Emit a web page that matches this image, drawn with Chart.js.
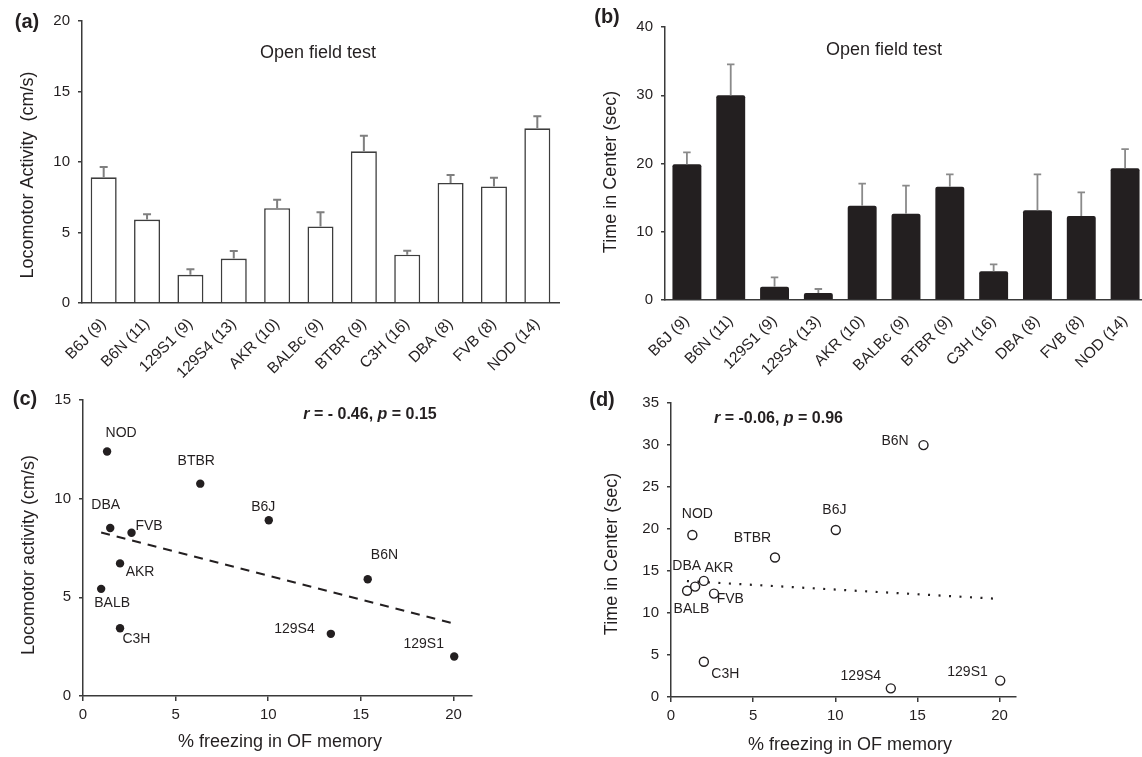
<!DOCTYPE html>
<html>
<head>
<meta charset="utf-8">
<script src="https://cdn.jsdelivr.net/npm/chart.js@4.4.1/dist/chart.umd.min.js"></script>
<style>
html,body{margin:0;padding:0;background:#ffffff;overflow:hidden;width:1142px;height:757px;}
canvas{position:absolute;}
</style>
</head>
<body>
<canvas id="chartA" width="570" height="380" style="left:0px;top:0px;"></canvas>
<canvas id="chartB" width="577" height="380" style="left:570px;top:0px;"></canvas>
<canvas id="chartC" width="570" height="377" style="left:0px;top:380px;"></canvas>
<canvas id="chartD" width="572" height="377" style="left:570px;top:380px;"></canvas>
<script>
// ---------------- DATA ----------------
const strains = ['B6J (9)','B6N (11)','129S1 (9)','129S4 (13)','AKR (10)','BALBc (9)','BTBR (9)','C3H (16)','DBA (8)','FVB (8)','NOD (14)'];
const strainNames = ['B6J','B6N','129S1','129S4','AKR','BALB','BTBR','C3H','DBA','FVB','NOD'];
const locomotorMean = [8.91, 5.92, 2.00, 3.15, 6.72, 5.43, 10.76, 3.43, 8.51, 8.27, 12.39];
const locomotorSem  = [0.73, 0.38, 0.40, 0.54, 0.61, 1.01, 1.11, 0.28, 0.56, 0.61, 0.86];
const centerTimeMean = [19.88, 29.99, 1.95, 1.03, 13.82, 12.65, 16.61, 4.20, 13.14, 12.31, 19.29];
const centerTimeSem  = [1.76, 4.54, 1.37, 0.58, 3.23, 4.10, 1.80, 1.03, 5.27, 3.47, 2.83];
const freezingOF = [10.03, 15.37, 20.04, 13.38, 2.00, 0.98, 6.33, 2.00, 1.47, 2.62, 1.30];
const trendLocoX = [0.98, 20.04];
const trendLocoY = [8.29, 3.67];
const trendCenterX = [0.97, 19.76];
const trendCenterY = [13.8, 11.7];
const locoBarTicks = [0, 5, 10, 15, 20];
const centerBarTicks = [0, 10, 20, 30, 40];
const locoScatterTicks = [0, 5, 10, 15];
const centerScatterTicks = [0, 5, 10, 15, 20, 25, 30, 35];
const freezingTicks = [0, 5, 10, 15, 20];

// ---------------- STYLE ----------------
const FONT = "'Liberation Sans', Arial, Helvetica, sans-serif";
const INK = '#231f20';
const AXIS = '#3a3a3a';

function fixedBox(size) {
  return function (scale) {
    if (scale.isHorizontal()) scale.height = size; else scale.width = size;
    scale.paddingLeft = 0; scale.paddingRight = 0; scale.paddingTop = 0; scale.paddingBottom = 0;
  };
}
function setTicks(values) {
  return function (scale) { scale.ticks = values.map(v => ({ value: v })); };
}

const annotPlugin = {
  id: 'annot',
  afterDraw(chart, args, opts) {
    const ctx = chart.ctx;
    (opts.items || []).forEach(it => {
      ctx.save();
      ctx.translate(it.x, it.y);
      if (it.rotate) ctx.rotate(it.rotate * Math.PI / 180);
      ctx.fillStyle = it.color || INK;
      ctx.textBaseline = 'middle';
      ctx.textAlign = 'left';
      const segs = it.segments || [{ text: it.text }];
      const fonts = segs.map(s => (s.italic ? 'italic ' : '') + (it.weight || 'normal') + ' ' + it.size + 'px ' + FONT);
      const widths = segs.map((s, i) => { ctx.font = fonts[i]; return ctx.measureText(s.text).width; });
      const total = widths.reduce((a, b) => a + b, 0);
      let x = -total / 2;
      segs.forEach((s, i) => { ctx.font = fonts[i]; ctx.fillText(s.text, x, 0); x += widths[i]; });
      ctx.restore();
    });
  }
};

const errorBarPlugin = {
  id: 'errorBars',
  afterDatasetsDraw(chart, args, opts) {
    if (!opts.errors) return;
    const meta = chart.getDatasetMeta(0);
    const ys = chart.scales.y;
    const vals = chart.data.datasets[0].data;
    const ctx = chart.ctx;
    ctx.save();
    ctx.strokeStyle = opts.color;
    ctx.lineWidth = opts.width;
    ctx.lineCap = 'butt';
    meta.data.forEach((bar, i) => {
      const yTop = ys.getPixelForValue(vals[i] + opts.errors[i]);
      const yBase = ys.getPixelForValue(vals[i]);
      ctx.beginPath();
      ctx.moveTo(bar.x, yBase);
      ctx.lineTo(bar.x, yTop);
      ctx.moveTo(bar.x - opts.cap / 2, yTop);
      ctx.lineTo(bar.x + opts.cap / 2, yTop);
      ctx.stroke();
    });
    ctx.restore();
  }
};

const pointLabelPlugin = {
  id: 'pointLabels',
  afterDatasetsDraw(chart, args, opts) {
    if (!opts.names) return;
    const meta = chart.getDatasetMeta(opts.datasetIndex);
    const ctx = chart.ctx;
    ctx.save();
    ctx.font = opts.size + 'px ' + FONT;
    ctx.fillStyle = INK;
    ctx.textAlign = 'center';
    ctx.textBaseline = 'middle';
    meta.data.forEach((pt, i) => {
      const name = opts.names[i];
      const o = opts.offsets[name] || [0, 0];
      ctx.fillText(name, pt.x + o[0], pt.y + o[1]);
    });
    ctx.restore();
  }
};

function yAxis(min, max, ticks, width) {
  return {
    type: 'linear', min: min, max: max,
    grid: { drawOnChartArea: false, drawTicks: true, tickLength: 4, color: AXIS, lineWidth: 1.5 },
    border: { color: AXIS, width: 1.5 },
    ticks: { color: INK, font: { size: 15, family: FONT }, padding: 8 },
    afterBuildTicks: setTicks(ticks),
    afterFit: fixedBox(width)
  };
}
function xCategoryAxis(height) {
  return {
    type: 'category',
    grid: { display: false },
    border: { color: AXIS, width: 1.5 },
    ticks: { color: INK, font: { size: 15.5, family: FONT }, minRotation: 45, maxRotation: 45, autoSkip: false, padding: 4 },
    afterFit: fixedBox(height)
  };
}
function xLinearAxis(height) {
  return {
    type: 'linear', min: 0, max: 21,
    grid: { drawOnChartArea: false, drawTicks: true, tickLength: 5, color: AXIS, lineWidth: 1.5 },
    border: { color: AXIS, width: 1.5 },
    ticks: { color: INK, font: { size: 15, family: FONT }, padding: 5 },
    afterBuildTicks: setTicks(freezingTicks),
    afterFit: fixedBox(height)
  };
}
const common = { responsive: false, animation: false, events: [] };

// ---------------- (a) ----------------
new Chart(document.getElementById('chartA'), {
  type: 'bar',
  data: { labels: strains, datasets: [{ data: locomotorMean, backgroundColor: '#ffffff', borderColor: '#3d3d3d', borderWidth: 1.6, barPercentage: 0.6, categoryPercentage: 1 }] },
  options: Object.assign({}, common, {
    layout: { padding: { top: 21, right: 11, left: 0, bottom: 0 } },
    plugins: {
      legend: { display: false }, tooltip: { enabled: false },
      errorBars: { errors: locomotorSem, color: '#7f7f7f', width: 2, cap: 8 },
      annot: { items: [
        { text: '(a)', x: 27, y: 22, size: 20, weight: 'bold' },
        { text: 'Open field test', x: 318, y: 53, size: 18 },
        { text: 'Locomotor Activity  (cm/s)', x: 28, y: 175, size: 18, rotate: -90 }
      ] }
    },
    scales: { x: xCategoryAxis(77), y: yAxis(0, 20, locoBarTicks, 82) }
  }),
  plugins: [annotPlugin, errorBarPlugin]
});

// ---------------- (b) ----------------
new Chart(document.getElementById('chartB'), {
  type: 'bar',
  data: { labels: strains, datasets: [{ data: centerTimeMean, backgroundColor: INK, borderColor: INK, borderWidth: 0, borderRadius: 2, borderSkipped: 'bottom', barPercentage: 0.66, categoryPercentage: 1 }] },
  options: Object.assign({}, common, {
    layout: { padding: { top: 27, right: 0, left: 0, bottom: 0 } },
    plugins: {
      legend: { display: false }, tooltip: { enabled: false },
      errorBars: { errors: centerTimeSem, color: '#8a8a8a', width: 1.8, cap: 7.5 },
      annot: { items: [
        { text: '(b)', x: 37, y: 17, size: 20, weight: 'bold' },
        { text: 'Open field test', x: 314, y: 50, size: 18 },
        { text: 'Time in Center (sec)', x: 41, y: 172, size: 18, rotate: -90 }
      ] }
    },
    scales: { x: xCategoryAxis(80), y: yAxis(0, 40, centerBarTicks, 95) }
  }),
  plugins: [annotPlugin, errorBarPlugin]
});

// ---------------- (c) ----------------
new Chart(document.getElementById('chartC'), {
  type: 'scatter',
  data: { datasets: [
    { type: 'line', data: trendLocoX.map((x, i) => ({ x: x, y: trendLocoY[i] })), borderColor: INK, borderWidth: 2, borderDash: [9, 7], pointRadius: 0, fill: false, order: 0 },
    { data: freezingOF.map((x, i) => ({ x: x, y: locomotorMean[i] })), pointRadius: 4.2, backgroundColor: INK, borderColor: INK, borderWidth: 0, order: 1 }
  ] },
  options: Object.assign({}, common, {
    layout: { padding: { top: 20, right: 98, left: 0, bottom: 0 } },
    plugins: {
      legend: { display: false }, tooltip: { enabled: false },
      pointLabels: { datasetIndex: 1, size: 14, names: strainNames, offsets: {
        'NOD': [14, -18.5], 'BTBR': [-4, -23], 'DBA': [-4.5, -23], 'FVB': [17.5, -6.7], 'B6J': [-5.5, -13],
        'AKR': [20, 8.3], 'BALB': [11, 14.7], 'B6N': [16.7, -23.7], 'C3H': [16.4, 11.3], '129S4': [-36.4, -5], '129S1': [-30.5, -12.7]
      } },
      annot: { items: [
        { text: '(c)', x: 25, y: 19, size: 20, weight: 'bold' },
        { x: 370, y: 35, size: 16, weight: 'bold', segments: [ { text: 'r', italic: true }, { text: ' = - 0.46, ' }, { text: 'p', italic: true }, { text: ' = 0.15' } ] },
        { text: 'Locomotor activity (cm/s)', x: 29, y: 175, size: 18, rotate: -90 },
        { text: '% freezing in OF memory', x: 280, y: 362, size: 18 }
      ] }
    },
    scales: { x: xLinearAxis(61), y: yAxis(0, 15, locoScatterTicks, 83) }
  }),
  plugins: [annotPlugin, pointLabelPlugin]
});

// ---------------- (d) ----------------
new Chart(document.getElementById('chartD'), {
  type: 'scatter',
  data: { datasets: [
    { type: 'line', data: trendCenterX.map((x, i) => ({ x: x, y: trendCenterY[i] })), borderColor: INK, borderWidth: 2.2, borderDash: [2, 8.5], pointRadius: 0, fill: false, order: 0 },
    { data: freezingOF.map((x, i) => ({ x: x, y: centerTimeMean[i] })), pointRadius: 4.5, backgroundColor: '#ffffff', borderColor: INK, borderWidth: 1.4, order: 1 }
  ] },
  options: Object.assign({}, common, {
    layout: { padding: { top: 23, right: 126, left: 0, bottom: 0 } },
    plugins: {
      legend: { display: false }, tooltip: { enabled: false },
      pointLabels: { datasetIndex: 1, size: 14, names: strainNames, offsets: {
        'B6N': [-28.4, -4.3], 'B6J': [-1.4, -19.7], 'NOD': [5, -21], 'BTBR': [-22.5, -19.7], 'DBA': [-8.4, -20],
        'AKR': [15, -13], 'FVB': [16.3, 5.3], 'BALB': [4.4, 18], 'C3H': [21.5, 12.7], '129S4': [-30, -12.7], '129S1': [-32.7, -8]
      } },
      annot: { items: [
        { text: '(d)', x: 32, y: 20, size: 20, weight: 'bold' },
        { x: 208.5, y: 39, size: 16, weight: 'bold', segments: [ { text: 'r', italic: true }, { text: ' = -0.06, ' }, { text: 'p', italic: true }, { text: ' = 0.96' } ] },
        { text: 'Time in Center (sec)', x: 42, y: 174, size: 18, rotate: -90 },
        { text: '% freezing in OF memory', x: 280, y: 365, size: 18 }
      ] }
    },
    scales: { x: xLinearAxis(60), y: yAxis(0, 35, centerScatterTicks, 101) }
  }),
  plugins: [annotPlugin, pointLabelPlugin]
});
</script>
</body>
</html>
